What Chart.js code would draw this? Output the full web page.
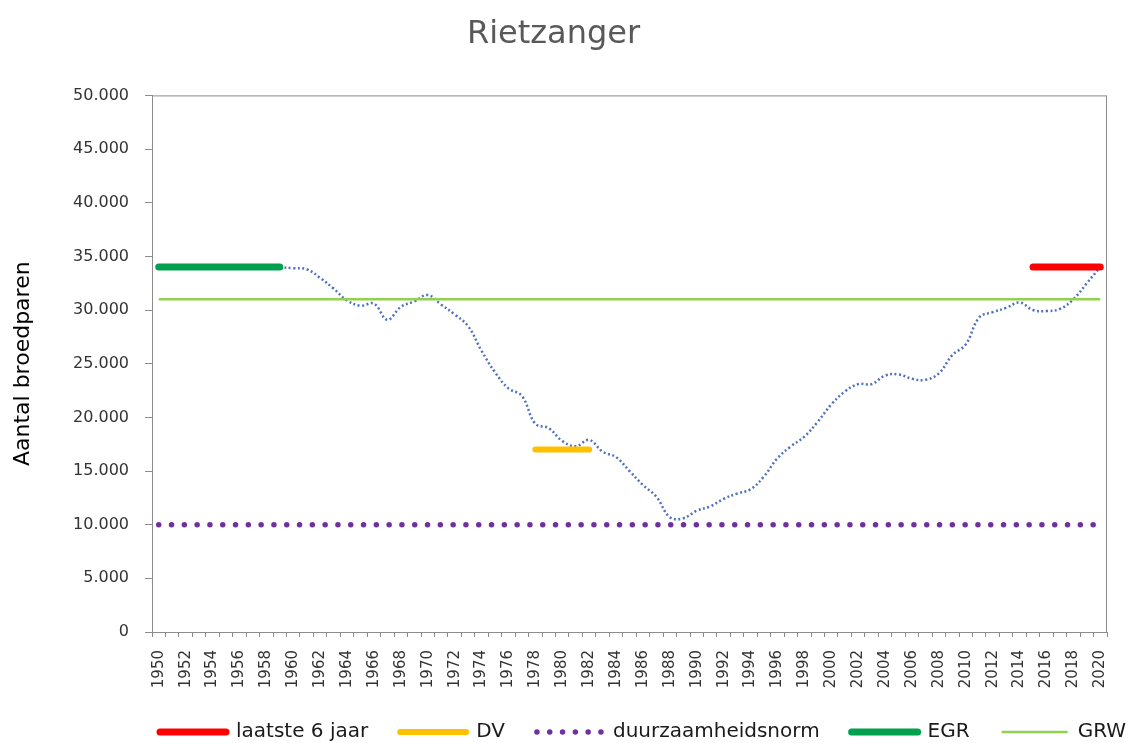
<!DOCTYPE html>
<html lang="nl">
<head>
    <meta charset="UTF-8">
    <title>Rietzanger</title>
    <script src="https://cdn.jsdelivr.net/npm/chart.js@4.4.1/dist/chart.umd.min.js"></script>
    <style>
        html, body {
            margin: 0;
            padding: 0;
            background: #fff;
        }
        .chart-box {
            position: relative;
            width: 1134px;
            height: 743px;
        }
    </style>
</head>
<body>
    <div class="chart-box">
        <canvas id="rietzangerChart"></canvas>
    </div>

    <script>
        // Years on the x axis
        const years = [];
        for (let y = 1950; y <= 2020; y++) years.push(y);

        // Counted breeding pairs, 1959..2020
        const trendStart = 1959;
        const trendValues = [
            34000, 33900, 33800, 33000, 32000, 30900, 30400, 30600, 29100, 30300,
            30800, 31400, 30500, 29600, 28500, 26200, 24200, 22700, 22000, 19400,
            19000, 17800, 17300, 17900, 16800, 16300, 15000, 13700, 12600, 10700,
            10600, 11300, 11700, 12400, 12900, 13300, 14500, 16200, 17300, 18200,
            19600, 21200, 22400, 23100, 23100, 23900, 24000, 23600, 23500, 24100,
            25800, 26800, 29300, 29800, 30200, 30700, 30000, 29900, 30100, 31000,
            32500, 34000
        ];

        // Reference levels: [value, first year, last year]
        const laatste6 = [34000, 2015, 2020];
        const dv = [17000, 1978, 1982];
        const norm = [10000, 1950, 2020];
        const egr = [34000, 1950, 1959];
        const grw = [31000, 1950, 2020];

        const yTicks = [0, 5000, 10000, 15000, 20000, 25000, 30000, 35000, 40000, 45000, 50000];

        function spanSeries(level) {
            return years.map(y => (y >= level[1] && y <= level[2]) ? level[0] : null);
        }
        const trendSeries = years.map(y => y < trendStart ? null : trendValues[y - trendStart]);

        function fmt(v) {
            return String(v).replace(/\B(?=(\d{3})+(?!\d))/g, '.');
        }

        const fontFamily = "'DejaVu Sans', Verdana, sans-serif";
        const legendPad = 32;

        // plot area frame
        const frame = {
            id: 'frame',
            afterDraw(chart) {
                const a = chart.chartArea;
                const ctx = chart.ctx;
                ctx.save();
                ctx.strokeStyle = '#8c8c8c';
                ctx.lineWidth = 1;
                ctx.strokeRect(a.left + 0.5, a.top + 0.5, a.right - a.left - 1, a.bottom - a.top);
                ctx.restore();
            }
        };

        // move the legend row to where the original puts it
        const legendPlace = {
            id: 'legendPlace',
            afterLayout(chart) {
                const lg = chart.legend;
                if (!lg || !lg.lineWidths) return;
                const start = (lg.left + legendPad + lg.right - lg.lineWidths[0]) / 2;
                const dx = 160 - start;
                lg.left += dx;
                lg.right += dx;
                const dy = (732 - legendPad - 10) - lg.top;
                lg.top += dy;
                lg.bottom += dy;
                // let the rotated year labels use the room above the legend row
                chart.scales.x.bottom = chart.height;
            }
        };

        const ctx = document.getElementById('rietzangerChart').getContext('2d');
        new Chart(ctx, {
            type: 'line',
            data: {
                labels: years.map(String),
                datasets: [
                    {
                        label: 'laatste 6 jaar',
                        data: spanSeries(laatste6),
                        borderColor: '#ff0000',
                        backgroundColor: '#ff0000',
                        borderWidth: 7,
                        borderCapStyle: 'round'
                    },
                    {
                        label: 'DV',
                        data: spanSeries(dv),
                        borderColor: '#ffc000',
                        backgroundColor: '#ffc000',
                        borderWidth: 6,
                        borderCapStyle: 'round'
                    },
                    {
                        label: 'duurzaamheidsnorm',
                        data: spanSeries(norm),
                        borderColor: '#7030a0',
                        backgroundColor: '#7030a0',
                        borderWidth: 5.5,
                        borderCapStyle: 'round',
                        borderDash: [0, 12.8]
                    },
                    {
                        label: 'EGR',
                        data: spanSeries(egr),
                        borderColor: '#00a04f',
                        backgroundColor: '#00a04f',
                        borderWidth: 7,
                        borderCapStyle: 'round'
                    },
                    {
                        label: 'GRW',
                        data: spanSeries(grw),
                        borderColor: '#92d050',
                        backgroundColor: '#92d050',
                        borderWidth: 2.5
                    },
                    {
                        label: 'Rietzanger',
                        data: trendSeries,
                        borderColor: '#4f71be',
                        borderWidth: 2.5,
                        borderDash: [2, 2.5],
                        tension: 0.4
                    }
                ]
            },
            options: {
                responsive: true,
                maintainAspectRatio: false,
                animation: false,
                elements: {
                    point: { radius: 0, hoverRadius: 0 },
                    line: { fill: false }
                },
                layout: {
                    padding: { left: 0, right: 27, top: 0, bottom: 0 }
                },
                plugins: {
                    tooltip: { enabled: false },
                    title: {
                        display: true,
                        text: 'Rietzanger',
                        color: '#595959',
                        font: { family: fontFamily, size: 32, weight: 'normal' },
                        padding: { top: 15, bottom: 42 }
                    },
                    legend: {
                        position: 'bottom',
                        labels: {
                            usePointStyle: true,
                            pointStyle: 'line',
                            pointStyleWidth: 66,
                            boxHeight: 20,
                            padding: legendPad,
                            color: '#1a1a1a',
                            font: { family: fontFamily, size: 20 },
                            filter: item => item.text !== 'Rietzanger',
                            // point style legend ignores the dataset dash and cap, copy them over
                            generateLabels(chart) {
                                const items = Chart.defaults.plugins.legend.labels.generateLabels(chart);
                                items.forEach(item => {
                                    const ds = chart.data.datasets[item.datasetIndex];
                                    item.lineDash = ds.borderDash || [];
                                    item.lineCap = ds.borderCapStyle || 'butt';
                                    item.lineWidth = ds.borderWidth;
                                });
                                return items;
                            }
                        }
                    }
                },
                scales: {
                    x: {
                        type: 'category',
                        offset: true,
                        afterFit(scale) {
                            const lg = scale.chart.legend;
                            const lh = lg && lg.height ? lg.height : 55;
                            scale.height = 743 - 632 - lh;
                        },
                        grid: {
                            display: true,
                            drawOnChartArea: false,
                            offset: true,
                            tickLength: 5,
                            color: '#8c8c8c'
                        },
                        border: { color: '#8c8c8c' },
                        ticks: {
                            autoSkip: false,
                            minRotation: 90,
                            maxRotation: 90,
                            padding: 13,
                            color: '#333333',
                            font: { family: fontFamily, size: 15 },
                            callback: function (value, index) {
                                const yr = years[index];
                                return yr % 2 === 0 ? String(yr) : '';
                            }
                        }
                    },
                    y: {
                        min: yTicks[0],
                        max: yTicks[yTicks.length - 1],
                        afterFit(scale) { scale.width = 152; },
                        afterBuildTicks(scale) {
                            scale.ticks = yTicks.map(v => ({ value: v }));
                        },
                        grid: {
                            display: true,
                            drawOnChartArea: false,
                            tickLength: 7,
                            color: '#8c8c8c'
                        },
                        border: { color: '#8c8c8c' },
                        ticks: {
                            padding: 16,
                            color: '#333333',
                            font: { family: fontFamily, size: 16 },
                            callback: v => fmt(v)
                        },
                        title: {
                            display: true,
                            text: 'Aantal broedparen',
                            color: '#000000',
                            font: { family: fontFamily, size: 22 },
                            padding: { top: 10, bottom: 0 }
                        }
                    }
                }
            },
            plugins: [frame, legendPlace]
        });
    </script>
</body>
</html>
